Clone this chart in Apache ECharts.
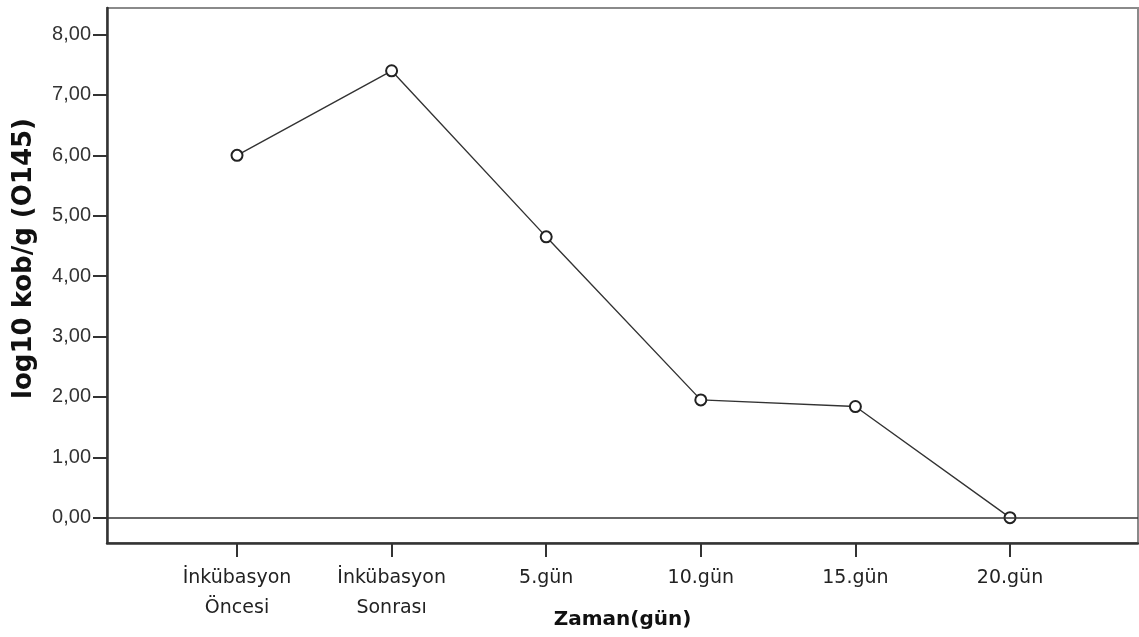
<!DOCTYPE html>
<html>
<head>
<meta charset="utf-8">
<script src="https://cdn.jsdelivr.net/npm/echarts@6/dist/echarts.min.js"></script>
<style>
html,body{margin:0;padding:0;background:#fff;}
#chart{width:1139px;height:637px;}
</style>
</head>
<body>
<div id="chart"></div>
<script>
var categories = ['İnkübasyon\nÖncesi', 'İnkübasyon\nSonrası', '5.gün', '10.gün', '15.gün', '20.gün'];
var logValues = [6.00, 7.40, 4.65, 1.95, 1.84, 0.00];
var yTicks = [0, 1, 2, 3, 4, 5, 6, 7, 8];
var xTitle = 'Zaman(gün)';
var yTitle = 'log10 kob/g (O145)';

var xIdx = categories.map(function (c, i) { return i; });
var seriesData = logValues.map(function (v, i) { return [xIdx[i], v]; });

var chart = echarts.init(document.getElementById('chart'));
chart.setOption({
  animation: false,
  backgroundColor: '#fff',
  grid: {
    left: 107, right: 1, top: 8, bottom: 94,
    outerBoundsMode: 'none',
    containLabel: false,
    show: true, borderColor: '#8a8a8a', borderWidth: 2, backgroundColor: '#fff'
  },
  xAxis: {
    type: 'value',
    min: -0.841, max: 5.828,
    name: xTitle,
    nameLocation: 'middle',
    nameGap: 67,
    nameMoveOverlap: false,
    nameTextStyle: { fontFamily: 'DejaVu Sans', fontWeight: 'bold', fontSize: 20, color: '#111' },
    axisLine: { show: true, onZero: false, lineStyle: { color: '#333', width: 2.5 } },
    axisTick: { show: true, inside: false, length: 14, customValues: xIdx, lineStyle: { color: '#333', width: 2 } },
    axisLabel: {
      customValues: xIdx,
      margin: 20,
      fontFamily: 'DejaVu Sans', fontSize: 19, lineHeight: 30, color: '#222',
      formatter: function (v) { return categories[Math.round(v)] || ''; }
    },
    splitLine: { show: false }
  },
  yAxis: {
    type: 'value',
    min: -0.42, max: 8.44,
    name: yTitle,
    nameLocation: 'middle',
    nameGap: 70,
    nameRotate: 90,
    nameMoveOverlap: false,
    nameTextStyle: { fontFamily: 'DejaVu Sans', fontWeight: 'bold', fontSize: 26, color: '#111', padding: [0, 0, 0, 34] },
    axisLine: { show: true, onZero: false, lineStyle: { color: '#333', width: 2.5 } },
    axisTick: { show: true, inside: false, length: 14, customValues: yTicks, lineStyle: { color: '#333', width: 2 } },
    axisLabel: {
      customValues: yTicks,
      margin: 16,
      fontFamily: 'Liberation Sans', fontSize: 20, color: '#333',
      formatter: function (v) { return v.toFixed(2).replace('.', ','); }
    },
    splitLine: { show: false }
  },
  series: [{
    type: 'line',
    data: seriesData,
    symbol: 'emptyCircle',
    symbolSize: 11,
    lineStyle: { color: '#333', width: 1.4 },
    itemStyle: { color: '#222', borderColor: '#222', borderWidth: 1.6 },
    markLine: {
      silent: true,
      symbol: 'none',
      label: { show: false },
      lineStyle: { color: '#333', width: 1.5, type: 'solid' },
      data: [{ yAxis: 0 }]
    },
    z: 3
  }]
});
</script>
</body>
</html>
